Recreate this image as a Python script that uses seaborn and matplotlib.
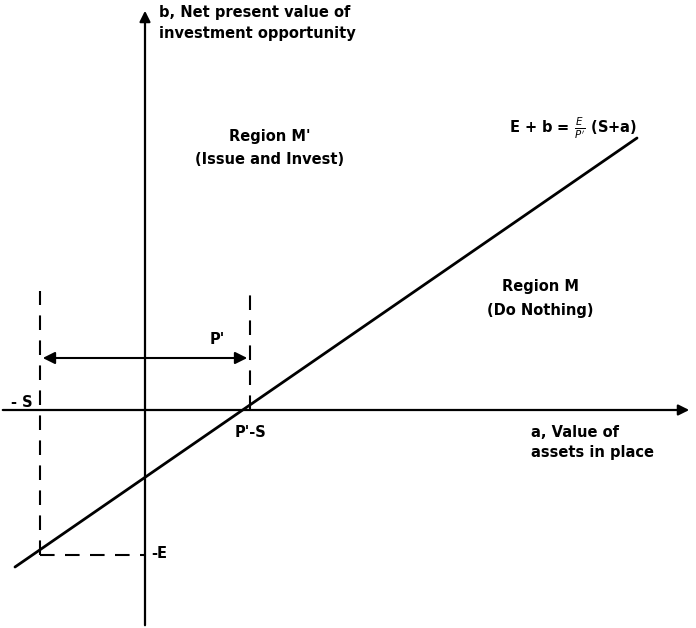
import matplotlib
matplotlib.use("Agg")
import matplotlib.pyplot as plt
import seaborn as sns
import pandas as pd
from matplotlib.patches import FancyArrowPatch

# values (1 unit = 100 px)
S = 1.05
P_prime = 2.1
E = 1.45
line_a = [-1.30, 4.92]
line_b = [-1.57, 2.72]

sns.set_style("white")
plt.rcParams['font.family'] = ['DejaVu Sans']
plt.rcParams['mathtext.fontset'] = 'dejavusans'

fig = plt.figure(figsize=(6.96, 6.28), dpi=100)
ax = fig.add_axes([0, 0, 1, 1])
ax.set_xlim(-1.45, 5.51)
ax.set_ylim(-2.18, 4.10)
ax.axis('off')

# axes with arrows
ax.annotate('', xy=(5.47, 0), xytext=(-1.45, 0),
            arrowprops=dict(arrowstyle='-|>', color='black', lw=1.6, mutation_scale=16))
ax.annotate('', xy=(0, 4.02), xytext=(0, -2.18),
            arrowprops=dict(arrowstyle='-|>', color='black', lw=1.6, mutation_scale=16))

# E + b = E/P' (S + a)
df = pd.DataFrame({'a': line_a, 'b': line_b})
sns.lineplot(data=df, x='a', y='b', ax=ax, color='black', lw=2.0)

# dashed guides
dash = dict(color='black', lw=1.5, ls=(0, (7, 5)))
ax.plot([-S, -S], [-E, 1.19], **dash)
ax.plot([P_prime - S, P_prime - S], [0, 1.19], **dash)
ax.plot([-S, 0], [-E, -E], **dash)

# P' span
arr = FancyArrowPatch((-S, 0.52), (P_prime - S, 0.52), arrowstyle='<|-|>',
                      mutation_scale=18, color='black', lw=1.5)
ax.add_patch(arr)

fs = 10.5
kw = dict(fontsize=fs, fontweight='bold', color='black')
ax.text(0.14, 4.05, "b, Net present value of\ninvestment opportunity",
        ha='left', va='top', linespacing=1.5, **kw)
ax.text(1.25, 2.73, "Region M'", ha='center', va='center', **kw)
ax.text(1.25, 2.50, "(Issue and Invest)", ha='center', va='center', **kw)
ax.text(3.95, 1.23, "Region M", ha='center', va='center', **kw)
ax.text(3.95, 0.99, "(Do Nothing)", ha='center', va='center', **kw)
ax.text(4.92, 2.82, r"E + b = $\frac{E}{P'}$ (S+a)", ha='right', va='center', **kw)
ax.text(0.72, 0.70, "P'", ha='center', va='center', **kw)
ax.text(-1.12, 0.07, "- S", ha='right', va='center', **kw)
ax.text(1.05, -0.23, "P'-S", ha='center', va='center', **kw)
ax.text(3.86, -0.15, "a, Value of\nassets in place", ha='left', va='top',
        linespacing=1.4, **kw)
ax.text(0.06, -1.44, "-E", ha='left', va='center', **kw)

fig.savefig("out.png", dpi=100)
